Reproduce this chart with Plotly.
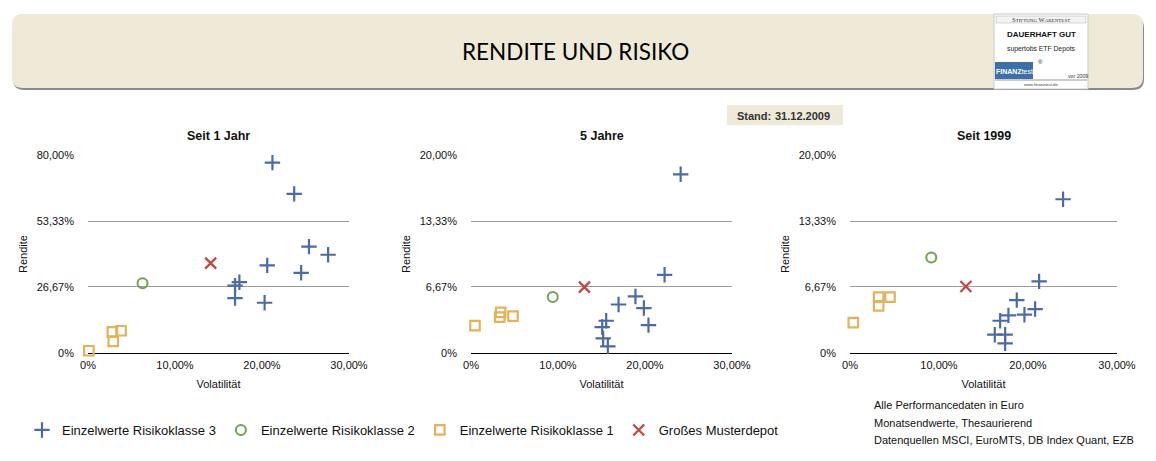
import plotly.graph_objects as go

W, H = 1156, 461

# ---------------- data ----------------
panel_titles = ["Seit 1 Jahr", "5 Jahre", "Seit 1999"]

# Panel 1: Seit 1 Jahr
p1_rk3_x = [21.2, 23.7, 25.4, 27.6, 20.6, 24.5, 17.4, 16.9, 16.9, 20.3]
p1_rk3_y = [76.9, 64.3, 43.0, 39.7, 35.4, 32.4, 28.6, 27.2, 22.2, 20.3]
p1_rk2_x = [6.27]
p1_rk2_y = [28.2]
p1_rk1_x = [0.1, 2.8, 3.8, 2.9]
p1_rk1_y = [0.9, 8.5, 9.0, 4.7]
p1_md_x = [14.1]
p1_md_y = [36.3]

# Panel 2: 5 Jahre
p2_rk3_x = [24.1, 22.25, 18.9, 16.96, 19.87, 20.4, 15.54, 15.08, 15.19, 15.73]
p2_rk3_y = [18.05, 7.9, 5.71, 4.9, 4.54, 2.82, 3.26, 2.62, 1.48, 0.67]
p2_rk2_x = [9.4]
p2_rk2_y = [5.65]
p2_rk1_x = [0.46, 3.3, 3.41, 4.83]
p2_rk1_y = [2.76, 3.63, 4.1, 3.73]
p2_md_x = [13.04]
p2_md_y = [6.66]

# Panel 3: Seit 1999
p3_rk3_x = [23.94, 21.25, 18.74, 20.8, 19.6, 17.8, 16.87, 16.27, 17.43, 17.43]
p3_rk3_y = [15.53, 7.23, 5.34, 4.44, 3.87, 3.8, 3.26, 1.85, 1.85, 0.97]
p3_rk2_x = [9.13]
p3_rk2_y = [9.65]
p3_rk1_x = [0.37, 3.22, 3.22, 4.49]
p3_rk1_y = [3.06, 5.65, 4.77, 5.65]
p3_md_x = [13.02]
p3_md_y = [6.72]

series_names = ["Einzelwerte Risikoklasse 3", "Einzelwerte Risikoklasse 2",
                "Einzelwerte Risikoklasse 1", "Großes Musterdepot"]

x_tickvals = [0, 10, 20, 30]
x_ticktext = ["0%", "10,00%", "20,00%", "30,00%"]
y1_tickvals = [0, 26.67, 53.33, 80]
y1_ticktext = ["0%", "26,67%", "53,33%", "80,00%"]
y2_tickvals = [0, 6.67, 13.33, 20]
y2_ticktext = ["0%", "6,67%", "13,33%", "20,00%"]

main_title = "RENDITE UND RISIKO"
stand_label = "Stand:"
stand_date = "31.12.2009"
footnote_lines = ["Alle Performancedaten in Euro", "Monatsendwerte, Thesaurierend",
                  "Datenquellen MSCI, EuroMTS, DB Index Quant, EZB"]

# ---------------- styles ----------------
C_BLUE = "#4a6ba3"
C_GREEN = "#74a052"
C_ORANGE = "#e2b25c"
C_RED = "#bf4a45"
FONT = "Liberation Sans, Arial, sans-serif"

def px(x):
    return x / W

def py(y):
    return 1 - y / H

panels = [
    dict(xs=[p1_rk3_x, p1_rk2_x, p1_rk1_x, p1_md_x], ys=[p1_rk3_y, p1_rk2_y, p1_rk1_y, p1_md_y],
         xdom=(88, 349), yr=(0, 80), tv=y1_tickvals, tt=y1_ticktext),
    dict(xs=[p2_rk3_x, p2_rk2_x, p2_rk1_x, p2_md_x], ys=[p2_rk3_y, p2_rk2_y, p2_rk1_y, p2_md_y],
         xdom=(471, 732), yr=(0, 20), tv=y2_tickvals, tt=y2_ticktext),
    dict(xs=[p3_rk3_x, p3_rk2_x, p3_rk1_x, p3_md_x], ys=[p3_rk3_y, p3_rk2_y, p3_rk1_y, p3_md_y],
         xdom=(850, 1117), yr=(0, 20), tv=y2_tickvals, tt=y2_ticktext),
]

markers = [
    dict(symbol="cross-thin-open", size=11, color=C_BLUE, line=dict(color=C_BLUE, width=2.2)),
    dict(symbol="circle-open", size=10, color=C_GREEN, line=dict(color=C_GREEN, width=2)),
    dict(symbol="square-open", size=9.5, color=C_ORANGE, line=dict(color=C_ORANGE, width=2.2)),
    dict(symbol="x-thin-open", size=11, color=C_RED, line=dict(color=C_RED, width=2.3)),
]

fig = go.Figure()
layout_axes = {}
annotations = []
shapes = []

plot_top, plot_bot = 155, 353

for i, p in enumerate(panels):
    n = i + 1
    xa = "x" if n == 1 else f"x{n}"
    ya = "y" if n == 1 else f"y{n}"
    for k in range(4):
        fig.add_trace(go.Scatter(
            x=p["xs"][k], y=p["ys"][k], mode="markers", name=series_names[k],
            marker=markers[k], xaxis=xa, yaxis=ya, cliponaxis=False,
            showlegend=(n == 1), legendgroup=series_names[k]))
    xkey = "xaxis" if n == 1 else f"xaxis{n}"
    ykey = "yaxis" if n == 1 else f"yaxis{n}"
    layout_axes[xkey] = dict(
        domain=[px(p["xdom"][0]), px(p["xdom"][1])], range=[0, 30], anchor=ya,
        tickvals=x_tickvals, ticktext=x_ticktext, showgrid=False, zeroline=False,
        showline=False, ticks="", ticklabelstandoff=4,
        tickfont=dict(size=11, color="#111", family=FONT),
        title=dict(text="Volatilität", font=dict(size=11, color="#111", family=FONT), standoff=10),
        fixedrange=True)
    layout_axes[ykey] = dict(
        domain=[py(plot_bot), py(plot_top)], range=list(p["yr"]), anchor=xa,
        tickvals=p["tv"], ticktext=p["tt"], showgrid=True, gridcolor="#9c9c9c", gridwidth=1,
        zeroline=True, zerolinecolor="#000000", zerolinewidth=1.2, showline=False, ticks="",
        ticklabelstandoff=13,
        tickfont=dict(size=11, color="#111", family=FONT),
        title=dict(text="Rendite", font=dict(size=11, color="#111", family=FONT), standoff=6),
        fixedrange=True)
    cx = (p["xdom"][0] + p["xdom"][1]) / 2
    annotations.append(dict(text=f"<b>{panel_titles[i]}</b>", x=px(cx), y=py(136), xref="paper",
                            yref="paper", showarrow=False, xanchor="center", yanchor="middle",
                            font=dict(size=12.5, color="#111", family=FONT)))

# ---- banner ----
def rrect(x0, y0, x1, y1, r):
    X0, X1 = px(x0), px(x1)
    Y0, Y1 = py(y0), py(y1)
    rx, ry = r / W, r / H
    return (f"M {X0+rx},{Y0} L {X1-rx},{Y0} Q {X1},{Y0} {X1},{Y0-ry} "
            f"L {X1},{Y1+ry} Q {X1},{Y1} {X1-rx},{Y1} L {X0+rx},{Y1} "
            f"Q {X0},{Y1} {X0},{Y1+ry} L {X0},{Y0-ry} Q {X0},{Y0} {X0+rx},{Y0} Z")

shapes.append(dict(type="path", path=rrect(13, 17, 1144, 90, 11), xref="paper", yref="paper",
                   fillcolor="#8a8a8a", line=dict(width=0), layer="below"))
shapes.append(dict(type="path", path=rrect(12, 14, 1143, 88, 11), xref="paper", yref="paper",
                   fillcolor="#efe9d8", line=dict(width=0), layer="below"))
annotations.append(dict(text=main_title, x=px(575), y=py(51), xref="paper", yref="paper",
                        showarrow=False, xanchor="center", yanchor="middle",
                        font=dict(size=22.5, color="#000", family="Lato, Open Sans, sans-serif")))

# ---- logo ----
shapes.append(dict(type="rect", x0=px(994), x1=px(1088), y0=py(14), y1=py(89), xref="paper",
                   yref="paper", fillcolor="#ffffff", line=dict(color="#c8c8c8", width=1)))
shapes.append(dict(type="rect", x0=px(996), x1=px(1086), y0=py(16), y1=py(23), xref="paper",
                   yref="paper", fillcolor="#f2f2f2", line=dict(color="#b0b0b0", width=0.5)))
shapes.append(dict(type="rect", x0=px(995), x1=px(1033), y0=py(62), y1=py(79), xref="paper",
                   yref="paper", fillcolor="#3d6fa8", line=dict(width=0)))
shapes.append(dict(type="line", x0=px(995), x1=px(1087), y0=py(80), y1=py(80), xref="paper",
                   yref="paper", line=dict(color="#999", width=1)))
logo_items = [
    ("S<span style='font-size:5px'>TIFTUNG</span> W<span style='font-size:5px'>ARENTEST</span>",
     1041, 19.5, 6.5, "#333", "Liberation Serif, serif", "center"),
    ("<b>DAUERHAFT GUT</b>", 1041, 35, 8, "#111", FONT, "center"),
    ("supertobs ETF Depots", 1041, 49, 6.8, "#222", FONT, "center"),
    ("<b>FINANZ</b>test", 1014, 71, 7, "#ffffff", FONT, "center"),
    ("®", 1040, 62, 6, "#222", FONT, "center"),
    ("vor 2009", 1078, 76, 5.2, "#333", FONT, "center"),
    ("www.finanztest.de", 1041, 84.5, 4.2, "#444", FONT, "center"),
]
for t, x, y, s, c, f, a in logo_items:
    annotations.append(dict(text=t, x=px(x), y=py(y), xref="paper", yref="paper", showarrow=False,
                            xanchor=a, yanchor="middle", font=dict(size=s, color=c, family=f)))

# ---- Stand box ----
shapes.append(dict(type="rect", x0=px(727), x1=px(843), y0=py(105), y1=py(125), xref="paper",
                   yref="paper", fillcolor="#efe9d8", line=dict(width=0), layer="below"))
annotations.append(dict(text=f"<b>{stand_label}</b>", x=px(735), y=py(115.5), xref="paper",
                        yref="paper", showarrow=False, xanchor="left", yanchor="middle",
                        font=dict(size=11, color="#333", family=FONT)))
annotations.append(dict(text=f"<b>{stand_date}</b>", x=px(773), y=py(115.5), xref="paper",
                        yref="paper", showarrow=False, xanchor="left", yanchor="middle",
                        font=dict(size=11, color="#333", family=FONT)))

# ---- footnote ----
for j, line in enumerate(footnote_lines):
    annotations.append(dict(text=line, x=px(872), y=py(405 + 17.5 * j), xref="paper", yref="paper",
                            showarrow=False, xanchor="left", yanchor="middle",
                            font=dict(size=11, color="#111", family=FONT)))

fig.update_layout(
    autosize=True, margin=dict(l=0, r=0, t=0, b=0, autoexpand=False),
    paper_bgcolor="#ffffff", plot_bgcolor="rgba(0,0,0,0)",
    font=dict(family=FONT, color="#111"),
    showlegend=True,
    legend=dict(orientation="h", x=px(22), y=py(430), xanchor="left", yanchor="middle",
                font=dict(size=13, color="#111", family=FONT), itemwidth=30,
                bgcolor="rgba(0,0,0,0)", traceorder="normal"),
    annotations=annotations, shapes=shapes,
    **layout_axes,
)

fig.write_html("out.html", config={"displayModeBar": False, "responsive": True},
               default_width="100%", default_height="100%")

# let the figure fill the browser window exactly
with open("out.html", "r", encoding="utf-8") as fh:
    html = fh.read()
css = ("<style>html,body{margin:0;padding:0;width:100%;height:100%;overflow:hidden;}"
       "body>div{width:100%;height:100%;}</style>")
html = html.replace("<head>", "<head>" + css, 1)
with open("out.html", "w", encoding="utf-8") as fh:
    fh.write(html)
